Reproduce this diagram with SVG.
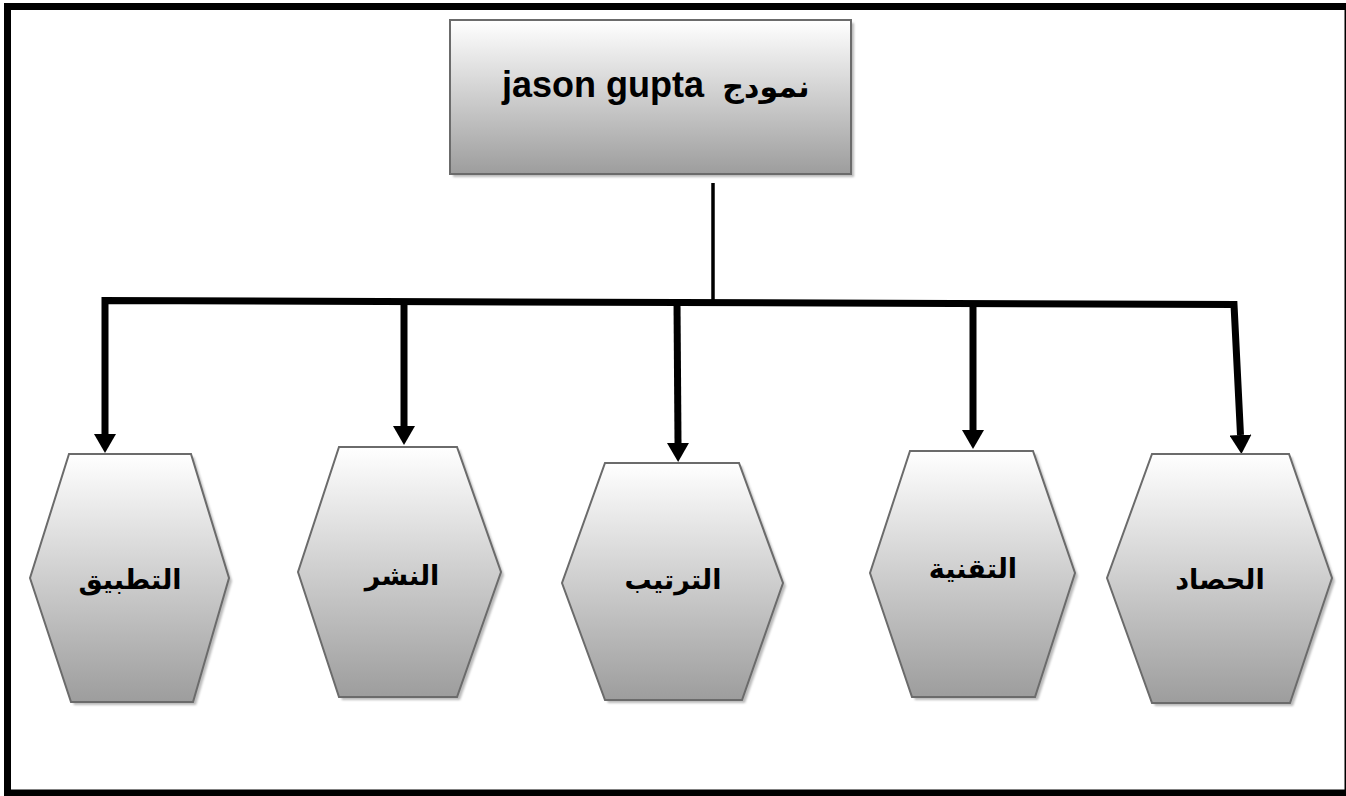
<svg xmlns="http://www.w3.org/2000/svg" width="1346" height="796" viewBox="0 0 1346 796">
  <defs>
    <linearGradient id="fillGrad" x1="0" y1="0" x2="0" y2="1">
      <stop offset="0" stop-color="#ffffff"/>
      <stop offset="1" stop-color="#9d9d9d"/>
    </linearGradient>
    <filter id="soft" x="-5%" y="-5%" width="110%" height="110%">
      <feGaussianBlur stdDeviation="1"/>
    </filter>
    <marker id="head" markerUnits="userSpaceOnUse" markerWidth="20" markerHeight="22" viewBox="0 0 20 22" refX="0" refY="11" orient="auto-start-reverse">
      <path d="M0,0 L19,11 L0,22 Z" fill="#000"/>
    </marker>
  </defs>
  <style>
    .shape { fill: url(#fillGrad); stroke: #6b6b6b; stroke-width: 2; stroke-linejoin: miter; }
    .shadow { fill: #bababa; filter: url(#soft); }
    .label { font-family: "Liberation Sans", "DejaVu Sans", sans-serif; font-weight: bold; font-size: 27px; fill: #000; text-anchor: middle; }
    .title { font-family: "Liberation Sans", "DejaVu Sans", sans-serif; font-weight: bold; fill: #000; }
    .wire { fill: none; stroke: #000; stroke-width: 7; stroke-linejoin: miter; }
  </style>

  <rect width="1346" height="796" fill="#ffffff"/>

  <!-- outer frame -->
  <rect x="7.5" y="6.5" width="1340.5" height="786.5" fill="none" stroke="#000" stroke-width="7"/>

  <!-- connectors -->
  <g id="connectors">
    <line x1="713" y1="183" x2="713" y2="302" stroke="#000" stroke-width="3.5"/>
    <path class="wire" d="M105,434 L105,300.5 L1234,304.5 L1240.5,435" marker-start="url(#head)" marker-end="url(#head)"/>
    <path class="wire" d="M404,301.6 L404,426" marker-end="url(#head)"/>
    <path class="wire" d="M677,302.5 L678,443" marker-end="url(#head)"/>
    <path class="wire" d="M973,303.6 L973,430" marker-end="url(#head)"/>
  </g>

  <!-- root box -->
  <g id="node-root">
    <rect class="shadow" x="453" y="23" width="401" height="154"/>
    <rect class="shape" x="450" y="20" width="401" height="154"/>
    <text class="title" x="502" y="97"><tspan font-size="36">jason gupta</tspan><tspan font-size="30" dx="10"> نمودج</tspan></text>
  </g>

  <!-- hexagon nodes -->
  <g id="node-tatbiq">
    <polygon class="shadow" points="72,457 194,457 232,581 196,705 74,705 33,581"/>
    <polygon class="shape" points="69,454 191,454 229,578 193,702 71,702 30,578"/>
    <text class="label" x="130" y="589">التطبيق</text>
  </g>

  <g id="node-nashr">
    <polygon class="shadow" points="342,450 460,450 504,575 460,700 342,700 301,575"/>
    <polygon class="shape" points="339,447 457,447 501,572 457,697 339,697 298,572"/>
    <text class="label" x="402" y="585">النشر</text>
  </g>

  <g id="node-tartib">
    <polygon class="shadow" points="608,466 742,466 786,586 745,703 608,703 565,586"/>
    <polygon class="shape" points="605,463 739,463 783,583 742,700 605,700 562,583"/>
    <text class="label" x="673" y="589">الترتيب</text>
  </g>

  <g id="node-taqniya">
    <polygon class="shadow" points="913,454 1036,454 1078,576 1038,700 915,700 873,576"/>
    <polygon class="shape" points="910,451 1033,451 1075,573 1035,697 912,697 870,573"/>
    <text class="label" x="973" y="578">التقنية</text>
  </g>

  <g id="node-hasad">
    <polygon class="shadow" points="1155,457 1292,457 1335,581 1293,706 1155,706 1110,581"/>
    <polygon class="shape" points="1152,454 1289,454 1332,578 1290,703 1152,703 1107,578"/>
    <text class="label" x="1220" y="589">الحصاد</text>
  </g>
</svg>
